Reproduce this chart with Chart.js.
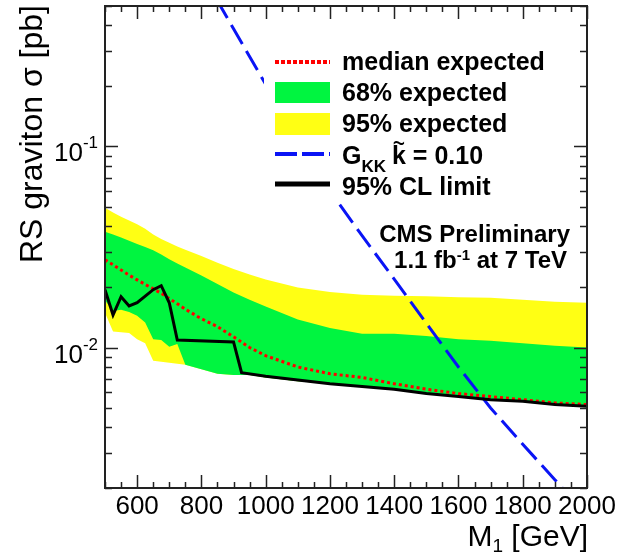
<!DOCTYPE html>
<html>
<head>
<meta charset="utf-8">
<script src="https://cdn.jsdelivr.net/npm/chart.js@4.4.1/dist/chart.umd.min.js"></script>
<style>
  html, body { margin: 0; padding: 0; background: #fff; }
  #wrap { width: 619px; height: 555px; }
</style>
</head>
<body>
<div id="wrap"><canvas id="limitChart" width="619" height="555"></canvas></div>
<script>
// masses (GeV) where the expected bands are sampled
const bandMass = [500, 525, 550, 575, 600, 625, 650, 675, 700, 725, 750, 800, 850, 900, 950,
                  1000, 1100, 1200, 1300, 1400, 1500, 1600, 1700, 1800, 1900, 2000];

// expected limits, pb
const medianExp  = [0.0273, 0.0258, 0.0243, 0.0229, 0.0217, 0.0206, 0.0196, 0.0186, 0.0175, 0.0165, 0.0155, 0.0139, 0.0127, 0.0113, 0.0100,
                    0.0091, 0.0080, 0.0074, 0.0071, 0.0066, 0.0062, 0.0059, 0.0057, 0.0055, 0.0053, 0.0052];
const green68Up  = [0.0377, 0.0365, 0.0353, 0.0340, 0.0327, 0.0316, 0.0305, 0.0290, 0.0275, 0.0262, 0.0250, 0.0228, 0.0207, 0.0188, 0.0173,
                    0.0160, 0.0138, 0.0125, 0.0117, 0.0117, 0.0114, 0.0110, 0.0108, 0.0105, 0.0102, 0.0100];
const green68Dn  = [0.0172, 0.0152, 0.0154, 0.0150, 0.0144, 0.0133, 0.0110, 0.0109, 0.0101, 0.0104, 0.0082, 0.0078, 0.0074, 0.0073, 0.0073,
                    0.0071, 0.0068, 0.0066, 0.0064, 0.0062, 0.0059, 0.0057, 0.0055, 0.0054, 0.0052, 0.0051];
const yellow95Up = [0.0496, 0.0470, 0.0447, 0.0428, 0.0410, 0.0390, 0.0365, 0.0347, 0.0332, 0.0318, 0.0306, 0.0285, 0.0264, 0.0246, 0.0231,
                    0.0218, 0.0199, 0.0189, 0.0183, 0.0181, 0.0180, 0.0178, 0.0177, 0.0173, 0.0169, 0.0167];
const yellow95Dn = [0.0149, 0.0120, 0.0119, 0.0118, 0.0110, 0.0105, 0.0086, 0.0085, 0.0084, 0.0083, 0.0082, 0.0078, 0.0074, 0.0073, 0.0073,
                    0.0071, 0.0068, 0.0066, 0.0064, 0.0062, 0.0059, 0.0057, 0.0055, 0.0054, 0.0052, 0.0051];

// observed 95% CL limit
const obsMass  = [500, 525, 550, 575, 600, 650, 675, 700, 725, 900, 925, 1000, 1100, 1200, 1300, 1400, 1500, 1600, 1700, 1800, 1900, 2000];
const obsLimit = [0.0194, 0.0145, 0.0179, 0.0161, 0.0167, 0.0194, 0.0203, 0.0167, 0.0109, 0.01066, 0.0075, 0.0072, 0.0069, 0.0066,
                  0.0064, 0.0062, 0.0059, 0.0057, 0.0055, 0.0054, 0.0052, 0.0051];

// RS graviton cross section, k~ = 0.10
const thMass  = [800, 900, 1000, 1100, 1200, 1300, 1400, 1500, 1600, 1700, 1800, 1900, 2000];
const thXsec  = [0.73, 0.385, 0.204, 0.111, 0.060, 0.036, 0.0219, 0.0132, 0.0080, 0.0050, 0.0033, 0.0022, 0.00145];

// axis ticks
const xTickLabels = [600, 800, 1000, 1200, 1400, 1600, 1800, 2000];
const yTickLabels = [{ v: 0.1, exp: '-1' }, { v: 0.01, exp: '-2' }];

const GREEN = 'rgb(0, 245, 64)';
const YELLOW = 'rgb(255, 255, 20)';
const BLUE = '#0a14f5';
const RED = '#ff0000';
const FONT = '"Liberation Sans", Arial, Helvetica, sans-serif';

const toPoints = (xs, ys) => xs.map((x, i) => ({ x: x, y: ys[i] }));

// frame, inner ticks, labels, legend
const decorations = {
    id: 'decorations',
    afterDatasetsDraw(chart) {
        const { ctx, chartArea: a, scales: { x, y } } = chart;
        ctx.save();

        // legend sits on a white box that hides the theory curve
        ctx.fillStyle = '#fff';
        ctx.fillRect(264, 44, 300, 157);

        const symL = 275, symR = 330, txtX = 342;
        ctx.lineCap = 'butt';
        ctx.strokeStyle = RED; ctx.lineWidth = 4; ctx.setLineDash([4, 2]);
        ctx.beginPath(); ctx.moveTo(symL, 62); ctx.lineTo(symR, 62); ctx.stroke();
        ctx.setLineDash([]);
        ctx.fillStyle = GREEN; ctx.fillRect(symL, 82, symR - symL, 21);
        ctx.fillStyle = YELLOW; ctx.fillRect(symL, 113, symR - symL, 22);
        ctx.strokeStyle = BLUE; ctx.lineWidth = 4; ctx.setLineDash([22, 5]);
        ctx.beginPath(); ctx.moveTo(symL, 154); ctx.lineTo(symR, 154); ctx.stroke();
        ctx.setLineDash([]);
        ctx.strokeStyle = '#000'; ctx.lineWidth = 5;
        ctx.beginPath(); ctx.moveTo(symL, 184); ctx.lineTo(symR, 184); ctx.stroke();

        ctx.fillStyle = '#000';
        ctx.textAlign = 'left';
        ctx.textBaseline = 'alphabetic';
        ctx.font = 'bold 25px ' + FONT;
        ctx.fillText('median expected', txtX, 70);
        ctx.fillText('68% expected', txtX, 101);
        ctx.fillText('95% expected', txtX, 132);
        ctx.fillText('95% CL limit', txtX, 195);
        // G_KK k~ = 0.10
        ctx.fillText('G', txtX, 164);
        let cx = txtX + ctx.measureText('G').width;
        ctx.font = 'bold 17px ' + FONT;
        ctx.fillText('KK', cx, 172);
        cx += ctx.measureText('KK').width + 6;
        ctx.font = 'bold 25px ' + FONT;
        ctx.fillText('k', cx, 164);
        const kW = ctx.measureText('k').width;
        ctx.fillText(' = 0.10', cx + kW, 164);
        // tilde over the k, narrowed a bit
        ctx.save();
        ctx.translate(cx + kW / 2, 153);
        ctx.scale(0.7, 1);
        ctx.font = '30px ' + FONT;
        ctx.textAlign = 'center';
        ctx.fillText('~', 0, 0);
        ctx.restore();

        // CMS label
        ctx.textAlign = 'right';
        ctx.font = 'bold 24px ' + FONT;
        ctx.fillText('CMS Preliminary', 570, 242);
        ctx.textAlign = 'left';
        const p1 = '1.1 fb', p2 = '-1', p3 = ' at 7 TeV';
        const w1 = ctx.measureText(p1).width, w3 = ctx.measureText(p3).width;
        ctx.font = 'bold 15px ' + FONT;
        const w2 = ctx.measureText(p2).width;
        let lx = 567 - (w1 + w2 + w3);
        ctx.font = 'bold 24px ' + FONT;
        ctx.fillText(p1, lx, 268);
        ctx.font = 'bold 15px ' + FONT;
        ctx.fillText(p2, lx + w1, 260);
        ctx.font = 'bold 24px ' + FONT;
        ctx.fillText(p3, lx + w1 + w2, 268);

        // inner ticks on all four sides
        ctx.strokeStyle = '#222';
        ctx.lineWidth = 1.5;
        ctx.beginPath();
        for (let v = 500; v <= 2000; v += 50) {
            const px = Math.round(x.getPixelForValue(v)) + 0.5;
            const len = v % 200 === 0 ? 13 : 6;
            ctx.moveTo(px, a.bottom); ctx.lineTo(px, a.bottom - len);
            ctx.moveTo(px, a.top); ctx.lineTo(px, a.top + len);
        }
        for (let d = -3; d <= 0; d++) {
            for (let m = 1; m <= 9; m++) {
                const v = m * Math.pow(10, d);
                if (v < y.min * 0.999 || v > y.max * 1.001) continue;
                const py = Math.round(y.getPixelForValue(v)) + 0.5;
                const len = m === 1 ? 13 : 7;
                ctx.moveTo(a.left, py); ctx.lineTo(a.left + len, py);
                ctx.moveTo(a.right, py); ctx.lineTo(a.right - len, py);
            }
        }
        ctx.stroke();

        // frame
        ctx.lineWidth = 2;
        ctx.strokeRect(a.left, a.top, a.right - a.left, a.bottom - a.top);

        // x tick labels
        ctx.fillStyle = '#000';
        ctx.font = '26px ' + FONT;
        ctx.textAlign = 'center';
        xTickLabels.forEach(v => {
            ctx.fillText(String(v), x.getPixelForValue(v), a.bottom + 26);
        });

        // y tick labels 10^n
        yTickLabels.forEach(t => {
            const py = y.getPixelForValue(t.v);
            ctx.textAlign = 'right';
            ctx.font = '17px ' + FONT;
            ctx.fillText(t.exp, 98, py + 2);
            const ew = ctx.measureText(t.exp).width;
            ctx.font = '26px ' + FONT;
            ctx.fillText('10', 98 - ew, py + 15);
        });

        // x title: M_1 [GeV]
        ctx.textAlign = 'left';
        ctx.font = '30px ' + FONT;
        const mW = ctx.measureText('M').width, rest = ' [GeV]', rW = ctx.measureText(rest).width;
        ctx.font = '19px ' + FONT;
        const sW = ctx.measureText('1').width;
        let tx = 588 - (mW + sW + rW);
        ctx.font = '30px ' + FONT;
        ctx.fillText('M', tx, 546);
        ctx.font = '19px ' + FONT;
        ctx.fillText('1', tx + mW, 552);
        ctx.font = '30px ' + FONT;
        ctx.fillText(rest, tx + mW + sW, 546);

        // y title
        ctx.translate(42, 5);
        ctx.rotate(-Math.PI / 2);
        ctx.textAlign = 'right';
        ctx.font = '32px ' + FONT;
        ctx.fillText('RS graviton σ [pb]', 0, 0);

        ctx.restore();
    }
};

new Chart(document.getElementById('limitChart'), {
    type: 'line',
    data: {
        datasets: [
            {
                label: '95% CL limit',
                data: toPoints(obsMass, obsLimit),
                borderColor: '#000',
                borderWidth: 3,
                pointRadius: 0,
                fill: false
            },
            {
                label: 'G_KK k~ = 0.10',
                data: toPoints(thMass, thXsec),
                borderColor: BLUE,
                borderWidth: 3,
                borderDash: [22, 8],
                pointRadius: 0,
                fill: false,
                clip: 0
            },
            {
                label: 'median expected',
                data: toPoints(bandMass, medianExp),
                borderColor: RED,
                borderWidth: 3,
                borderDash: [3, 3],
                pointRadius: 0,
                fill: false
            },
            {
                label: '68% expected',
                data: toPoints(bandMass, green68Up),
                borderWidth: 0,
                borderColor: 'rgba(0,0,0,0)',
                backgroundColor: GREEN,
                pointRadius: 0,
                fill: 4
            },
            {
                label: '68% low',
                data: toPoints(bandMass, green68Dn),
                borderWidth: 0,
                borderColor: 'rgba(0,0,0,0)',
                pointRadius: 0,
                fill: false
            },
            {
                label: '95% expected',
                data: toPoints(bandMass, yellow95Up),
                borderWidth: 0,
                borderColor: 'rgba(0,0,0,0)',
                backgroundColor: YELLOW,
                pointRadius: 0,
                fill: 6
            },
            {
                label: '95% low',
                data: toPoints(bandMass, yellow95Dn),
                borderWidth: 0,
                borderColor: 'rgba(0,0,0,0)',
                pointRadius: 0,
                fill: false
            }
        ]
    },
    options: {
        responsive: false,
        animation: false,
        layout: { padding: { left: 105, right: 32, top: 6, bottom: 67 } },
        plugins: {
            legend: { display: false },
            tooltip: { enabled: false }
        },
        scales: {
            x: { type: 'linear', min: 500, max: 2000, display: false },
            y: { type: 'logarithmic', min: 0.002, max: 0.5, display: false }
        }
    },
    plugins: [decorations]
});
</script>
</body>
</html>
